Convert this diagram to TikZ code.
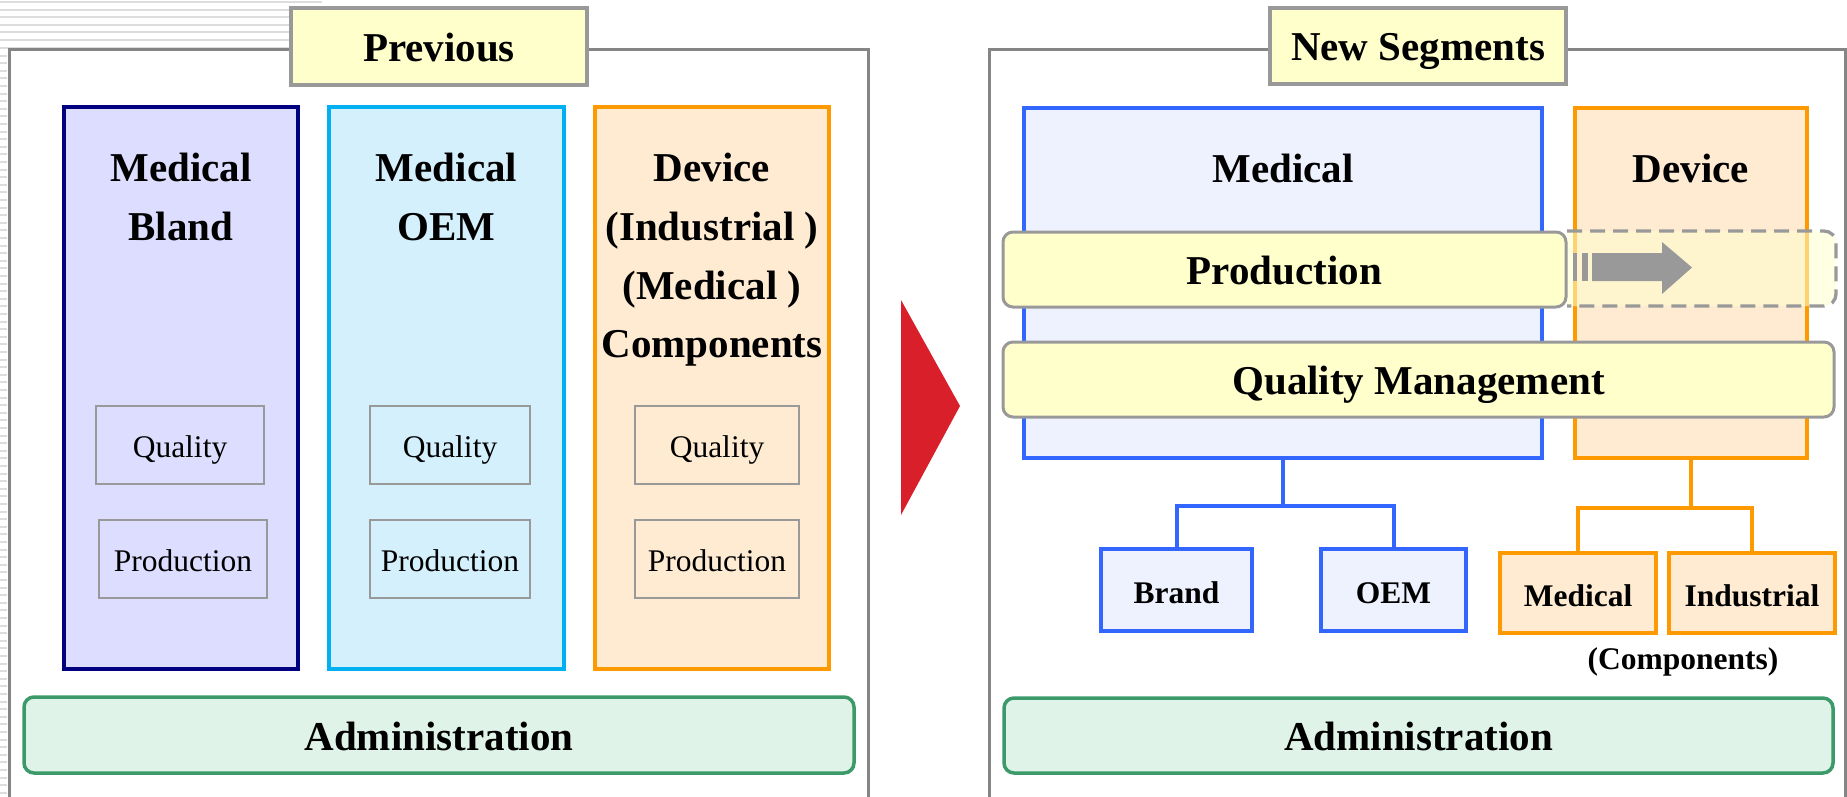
\documentclass[tikz,border=0pt]{standalone}
\usepackage{fontspec}
\setmainfont{Liberation Serif}
\usepackage{tikz}

\definecolor{framegray}{HTML}{858585}
\definecolor{boxgray}{HTML}{999999}
\definecolor{hatchgray}{HTML}{DDDDDD}
\definecolor{titlefill}{HTML}{FFFFCC}
\definecolor{blandfill}{HTML}{DDDDFF}
\definecolor{blanddraw}{HTML}{000080}
\definecolor{oemfill}{HTML}{D4F0FD}
\definecolor{oemdraw}{HTML}{00B0F0}
\definecolor{devfill}{HTML}{FEEBD2}
\definecolor{devdraw}{HTML}{FF9900}
\definecolor{medfill}{HTML}{EEF2FE}
\definecolor{meddraw}{HTML}{3366FF}
\definecolor{adminfill}{HTML}{DFF3E8}
\definecolor{admindraw}{HTML}{3C9A6A}
\definecolor{arrowred}{HTML}{D9202A}

\tikzset{
  boxsize/.style 2 args={minimum width=#1*0.5pt, minimum height=#2*0.5pt, inner sep=0pt},
  heading/.style={font=\fontsize{20.5}{29.3}\selectfont\bfseries},
  headtext/.style={heading, text height=19pt, text depth=4pt},
  small/.style={font=\fontsize{15.75}{19}\selectfont, text height=15.5pt, text depth=3.5pt},
  smallbf/.style={font=\fontsize{15.75}{19}\selectfont\bfseries},
  hatch/.style={draw=hatchgray, line width=1pt},
  frame/.style={draw=framegray, line width=1.5pt},
  titlebox/.style={draw=boxgray, fill=titlefill, line width=1.6pt, headtext},
  colbox/.style={draw, line width=2pt},
  subbox/.style={draw=boxgray, line width=1pt, small},
  bar/.style={draw=boxgray, fill=titlefill, line width=1.5pt, rounded corners=5pt, headtext},
  dashbar/.style={draw=boxgray, fill=titlefill, fill opacity=0.55, line width=1.65pt,
    dash pattern=on 7.5pt off 4pt},
  admin/.style={draw=admindraw, fill=adminfill, line width=1.75pt, rounded corners=5pt, headtext},
  leaf/.style={draw, line width=2pt, smallbf, text height=16.5pt, text depth=3.5pt},
  medline/.style={draw=meddraw, line width=2pt},
  devline/.style={draw=devdraw, line width=2pt},
}

\begin{document}
\begin{tikzpicture}[x=0.5pt,y=-0.5pt]
\useasboundingbox (0,0) rectangle (1847,797);

% striped page edge
\foreach \y in {2,9.6,...,48} \draw[hatch] (0,\y) -- (322,\y);
\foreach \y in {55.6,63.2,...,797} \draw[hatch] (0,\y) -- (7,\y);

% ---- previous organisation
\draw[frame] (9,797) -- (9,50) -- (868,50) -- (868,797);
\node[titlebox, boxsize={296}{77}] (prev) at (439,46.5) {Previous};

\node[colbox, fill=blandfill, draw=blanddraw, boxsize={234}{562}] (bland) at (181,388) {};
\node[colbox, fill=oemfill, draw=oemdraw, boxsize={235}{562}] (oem) at (446.5,388) {};
\node[colbox, fill=devfill, draw=devdraw, boxsize={234}{562}] (dev) at (712,388) {};

\node[heading, align=center] (blandname) at (181,197) {Medical\\Bland};
\node[heading, align=center] (oemname) at (446.5,197) {Medical\\OEM};
\node[heading, align=center] (devname) at (712,260) {Device\\(Industrial )\\(Medical )\\Components};

\node[subbox, boxsize={168}{78}] (blandq) at (180,445) {Quality};
\node[subbox, boxsize={168}{78}] (blandp) at (183,559) {Production};
\node[subbox, boxsize={160}{78}] (oemq) at (450,445) {Quality};
\node[subbox, boxsize={160}{78}] (oemp) at (450,559) {Production};
\node[subbox, boxsize={164}{78}] (devq) at (717,445) {Quality};
\node[subbox, boxsize={164}{78}] (devp) at (717,559) {Production};

\node[admin, boxsize={830}{76}] (adminl) at (439,735) {Administration};

% change arrow
\fill[arrowred] (901,300) -- (960,406) -- (901,515) -- cycle;

% ---- new segments
\draw[frame] (989,797) -- (989,50) -- (1845,50) -- (1845,797);
\node[titlebox, boxsize={296}{76}] (news) at (1418,46) {New Segments};

\node[colbox, fill=medfill, draw=meddraw, boxsize={518}{350}] (med) at (1283,283) {};
\node[colbox, fill=devfill, draw=devdraw, boxsize={232}{350}] (device) at (1691,283) {};
\node[heading] (medname) at (1283,168) {Medical};
\node[heading] (devicename) at (1691,168) {Device};

% production moving over to device
\filldraw[dashbar] (1567,231) [rounded corners=6pt] -- (1836,231) -- (1836,306)
  [sharp corners] -- (1567,306);
\fill[boxgray] (1573,253) rectangle (1577,281);
\fill[boxgray] (1582,253) rectangle (1588,281);
\fill[boxgray] (1592,253) -- (1662,253) -- (1662,242) -- (1692,267.5)
  -- (1662,294) -- (1662,281) -- (1592,281) -- cycle;
\node[bar, boxsize={563}{75}] (prod) at (1284.5,269.5) {Production};
\node[bar, boxsize={831}{75}] (qm) at (1418.5,379.5) {Quality Management};

% sub segments
\node[leaf, draw=meddraw, fill=medfill, boxsize={151}{82}] (brand) at (1176.5,590) {Brand};
\node[leaf, draw=meddraw, fill=medfill, boxsize={145}{82}] (oemseg) at (1393.5,590) {OEM};
\node[leaf, draw=devdraw, fill=devfill, boxsize={156}{80}] (compmed) at (1578,593) {Medical};
\node[leaf, draw=devdraw, fill=devfill, boxsize={166}{80}] (compind) at (1752,593) {Industrial};
\node[smallbf] (comp) at (1683,662) {(Components)};

\draw[medline] (med.south) -- ++(0,46) -| (brand.north);
\draw[medline] (med.south) ++(0,46) -| (oemseg.north);
\draw[devline] (device.south) -- ++(0,48) -| (compmed.north);
\draw[devline] (device.south) ++(0,48) -| (compind.north);

\node[admin, boxsize={829}{75}] (adminr) at (1418.5,735.5) {Administration};
\end{tikzpicture}
\end{document}
